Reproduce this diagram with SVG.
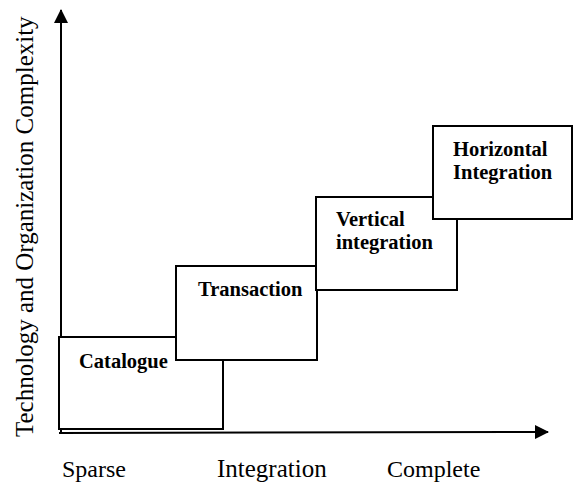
<svg xmlns="http://www.w3.org/2000/svg" width="573" height="492" viewBox="0 0 573 492">
<defs>
<style>
.box{fill:#fff;stroke:#000;stroke-width:2}
.bl{font-family:"Liberation Serif","Times New Roman",serif;font-weight:bold;font-size:20.5px;fill:#000}
.ax{font-family:"Liberation Serif","Times New Roman",serif;font-size:24px;fill:#000}
.axis{stroke:#000;stroke-width:2;fill:none}
</style>
<marker id="ah" viewBox="0 0 14 14" refX="13" refY="7" markerWidth="14" markerHeight="14" markerUnits="userSpaceOnUse" orient="auto">
<path d="M0,0 L14,7 L0,14 Z" fill="#000"/>
</marker>
</defs>
<rect width="573" height="492" fill="#fff"/>
<g id="connectors">
<line class="axis" x1="61" y1="433" x2="61" y2="10" marker-end="url(#ah)"/>
<line class="axis" x1="59" y1="433" x2="548" y2="432" marker-end="url(#ah)"/>
</g>
<g id="catalogue">
<rect class="box" x="59" y="337" width="164" height="92"/>
<text class="bl" x="79" y="368">Catalogue</text>
</g>
<g id="transaction">
<rect class="box" x="176" y="266" width="141" height="94"/>
<text class="bl" x="198" y="296">Transaction</text>
</g>
<g id="vertical">
<rect class="box" x="316" y="197" width="141" height="93"/>
<text class="bl" x="336" y="226">Vertical</text>
<text class="bl" x="336" y="249">integration</text>
</g>
<g id="horizontal">
<rect class="box" x="433" y="126" width="139" height="93"/>
<text class="bl" x="453" y="156">Horizontal</text>
<text class="bl" x="453" y="179">Integration</text>
</g>
<g id="labels">
<text class="ax" font-size="25" transform="translate(33,437) rotate(-90)" style="font-size:25px">Technology and Organization Complexity</text>
<text class="ax" x="62" y="477">Sparse</text>
<text class="ax" x="217" y="477" style="font-size:25px">Integration</text>
<text class="ax" x="387" y="477">Complete</text>
</g>
</svg>
